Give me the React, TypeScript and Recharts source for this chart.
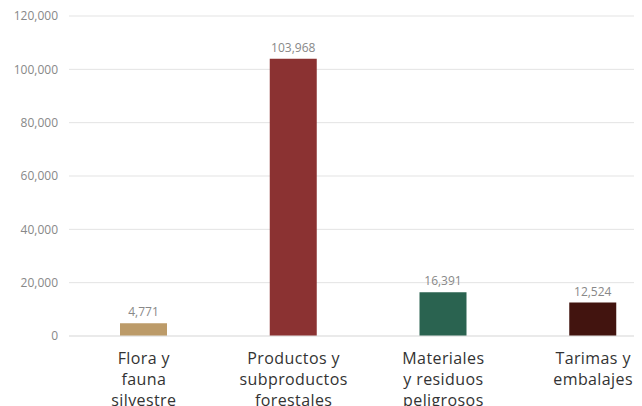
import React from "react";
import { BarChart, Bar, XAxis, YAxis, CartesianGrid, Cell, LabelList } from "recharts";

const categories = [
  "Flora y\nfauna\nsilvestre",
  "Productos y\nsubproductos\nforestales",
  "Materiales\ny residuos\npeligrosos",
  "Tarimas y\nembalajes",
];
const values = [4771, 103968, 16391, 12524];
const colors = ["#bc9b69", "#8b3232", "#2a6350", "#42140f"];
const yTicks = [0, 20000, 40000, 60000, 80000, 100000, 120000];

const data = categories.map((name, i) => ({ name, value: values[i] }));

const fmt = (v: number) => v.toLocaleString("en-US");

function CategoryTick({ x, y, payload }: any) {
  const lines = String(payload.value).split("\n");
  return (
    <text x={x} y={y} textAnchor="middle" fill="#333" fontSize={16} letterSpacing={0.4}>
      {lines.map((l, i) => (
        <tspan key={i} x={x} dy={i === 0 ? 20 : 21}>
          {l}
        </tspan>
      ))}
    </text>
  );
}

export default function App() {
  return (
    <div style={{ width: 634, height: 398, overflow: "hidden", fontFamily: "'Open Sans', sans-serif" }}>
      <BarChart
        width={660}
        height={400}
        data={data}
        margin={{ top: 8, right: 0, bottom: 42, left: 0 }}
      >
        <CartesianGrid vertical={false} stroke="#e3e3e3" />
        <XAxis
          dataKey="name"
          height={30}
          axisLine={{ stroke: "#e3e3e3" }}
          tickLine={false}
          interval={0}
          tick={<CategoryTick />}
        />
        <YAxis
          width={61}
          domain={[0, 120000]}
          ticks={yTicks}
          axisLine={false}
          tickLine={false}
          tickSize={0}
          tickMargin={11}
          tickFormatter={fmt}
          tick={{ fill: "#888", fontSize: 12 }}
        />
        <Bar dataKey="value" barSize={47} isAnimationActive={false}>
          {data.map((d, i) => (
            <Cell key={d.name} fill={colors[i]} />
          ))}
          <LabelList
            dataKey="value"
            position="top"
            formatter={(v: any) => fmt(Number(v))}
            fill="#888"
            fontSize={12}
            offset={7}
          />
        </Bar>
      </BarChart>
    </div>
  );
}
